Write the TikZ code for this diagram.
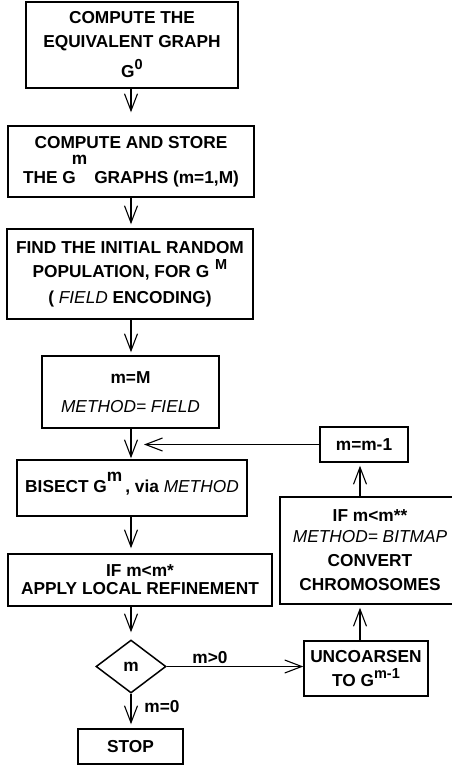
\documentclass[tikz,border=0pt]{standalone}
\usepackage{fontspec}
\setmainfont{Liberation Sans}
\usetikzlibrary{arrows.meta,shapes.geometric}
\newcommand\myraise[2]{\smash{\raisebox{#1}{\fontsize{14.5}{14.5}\selectfont #2}}}
\newcommand\myit[1]{{\mdseries\itshape #1}}
\begin{document}
\begin{tikzpicture}[x=1pt,y=-1pt,
  box/.style={draw, line width=1.5pt, rectangle, inner sep=0pt, align=center,
    font=\fontsize{17.3}{24}\selectfont\bfseries},
  arr/.style={line width=1.1pt, -{Straight Barb[length=17pt,width=13pt,line width=1.1pt]}},
  lbl/.style={font=\fontsize{17.3}{20}\selectfont\bfseries, inner sep=0pt}]
\useasboundingbox (0,0) rectangle (451,769);

\node[box, minimum width=212pt, minimum height=86pt] (b1) at (132,45)
  {COMPUTE THE\\EQUIVALENT GRAPH\\[6pt]G\myraise{8pt}{0}};
\node[box, minimum width=246pt, minimum height=71pt] (b2) at (131,161.5)
  {COMPUTE AND STORE\\[11pt]THE G\kern-4pt\smash{\raisebox{19pt}{m}}\kern7pt GRAPHS (m=1,M)};
\node[box, minimum width=246pt, minimum height=90pt] (b3) at (130,274)
  {FIND THE INITIAL RANDOM\\POPULATION, FOR G\kern6pt\myraise{8pt}{M}\\[2pt]( \myit{FIELD} ENCODING)};
\node[box, minimum width=177pt, minimum height=72pt] (b4) at (130.5,392)
  {m=M\\[5pt]\myit{METHOD= FIELD}};
\node[box, minimum width=230pt, minimum height=56pt] (b5) at (132,488)
  {BISECT G\smash{\raisebox{11pt}{m}}\kern3pt, via \myit{METHOD}};
\node[box, minimum width=264pt, minimum height=52pt] (b6) at (140,580)
  {IF m<m*\\[-6pt]APPLY LOCAL REFINEMENT};
\node[box, diamond, aspect=1.32, minimum width=70pt, minimum height=53pt] (dia) at (131,666.5) {m};
\node[box, minimum width=105pt, minimum height=35pt] (stop) at (130.5,746.5) {STOP};
\node[box, minimum width=124pt, minimum height=55pt] (unc) at (366,668.5)
  {UNCOARSEN\\TO G\myraise{8pt}{m-1}};
\node[box, minimum width=180pt, minimum height=107pt] (big) at (370,550.5)
  {IF m<m**\\[-3pt]\myit{METHOD= BITMAP}\\CONVERT\\CHROMOSOMES};
\node[box, minimum width=88pt, minimum height=35pt] (mm1) at (364,444.5) {m=m-1};

\draw[arr, shorten >=13pt] (b1.south -| dia) -- (b2.north -| dia);
\draw[arr, shorten >=4pt] (b2.south -| dia) -- (b3.north -| dia);
\draw[arr, shorten >=3pt] (b3.south -| dia) -- (b4.north -| dia);
\draw[arr, shorten >=1pt] (b4.south -| dia) -- (b5.north -| dia);
\draw[arr, shorten >=5pt] (b5.south -| dia) -- (b6.north -| dia);
\draw[arr, shorten >=7pt] (b6.south -| dia) -- (dia.north);
\draw[arr, shorten >=4pt] (dia.south) -- (stop.north -| dia);
\draw[arr] (dia.east) -- (dia.east -| unc.west);
\draw[arr, shorten >=3pt] ([xshift=-6pt]unc.north) -- ([xshift=-6pt]unc.north |- big.south);
\draw[arr, shorten >=3pt] ([xshift=-4pt]big.north -| mm1) -- ([xshift=-4pt]mm1.south);
\draw[arr, shorten >=13pt] (mm1.west) -- (mm1.west -| dia);

\node[lbl, anchor=base] (lgt) at (210,663) {m>0};
\node[lbl, anchor=base] (leq) at (162,712) {m=0};
\end{tikzpicture}
\end{document}
